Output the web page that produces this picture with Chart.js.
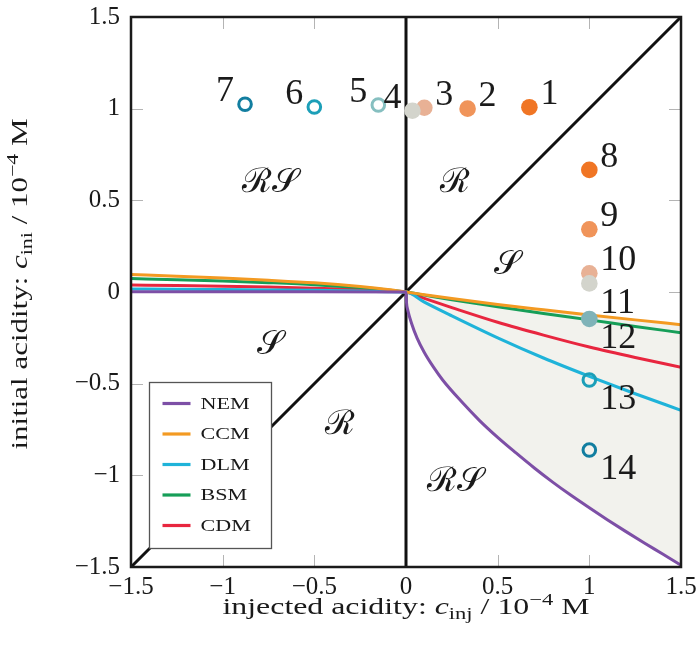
<!DOCTYPE html>
<html><head><meta charset="utf-8">
<script src="https://cdn.jsdelivr.net/npm/chart.js@4/dist/chart.umd.min.js"></script>
<style>html,body{margin:0;padding:0;background:#fff}canvas{display:block}</style>
</head><body>
<canvas id="c" width="700" height="649"></canvas>
<script>
// ---------------- data ----------------
const modelNames = ['NEM', 'CCM', 'DLM', 'BSM', 'CDM'];

const nemX = [-1.5, -1, -0.5, 0, 0.003, 0.01, 0.03, 0.06, 0.1, 0.15, 0.2, 0.3, 0.4, 0.5, 0.6, 0.7, 0.8, 0.9, 1.0, 1.1, 1.2, 1.3, 1.4, 1.5];
const nemY = [0.002, 0.002, 0.001, 0, -0.06, -0.1, -0.17, -0.25, -0.33, -0.41, -0.48, -0.595, -0.7, -0.793, -0.878, -0.96, -1.037, -1.109, -1.177, -1.243, -1.307, -1.369, -1.429, -1.49];

const curveX = [-1.5, -1.25, -1, -0.75, -0.5, -0.25, -0.1, 0, 0.1, 0.25, 0.5, 0.75, 1, 1.25, 1.5];
const ccmY = [0.095, 0.086, 0.076, 0.064, 0.05, 0.03, 0.014, 0, -0.015, -0.036, -0.068, -0.097, -0.125, -0.152, -0.178];
const dlmY = [0.016, 0.015, 0.013, 0.011, 0.009, 0.005, 0.002, 0, -0.055, -0.13, -0.25, -0.36, -0.46, -0.555, -0.645];
const bsmY = [0.073, 0.067, 0.06, 0.051, 0.04, 0.024, 0.011, 0, -0.017, -0.042, -0.08, -0.117, -0.152, -0.188, -0.222];
const cdmY = [0.038, 0.035, 0.031, 0.027, 0.021, 0.013, 0.006, 0, -0.035, -0.085, -0.165, -0.235, -0.3, -0.357, -0.41];

// boundary lines (black)
const verticalX = [0, 0];
const verticalY = [-1.5, 1.5];
const diagonalX = [-1.5, 1.5];
const diagonalY = [-1.5, 1.5];

// experiments
const expIds = ['1','2','3','4','5','6','7','8','9','10','11','12','13','14'];
const expX = [0.673, 0.336, 0.1, 0.035, -0.151, -0.5, -0.878, 1, 1, 1, 1, 1, 1, 1];
const expY = [1.008, 1.0, 1.005, 0.989, 1.02, 1.009, 1.024, 0.666, 0.342, 0.102, 0.047, -0.147, -0.48, -0.862];
const expFilled = [true, true, true, true, false, false, false, true, true, true, true, true, false, false];

// tick values
const tickValues = [-1.5, -1, -0.5, 0, 0.5, 1, 1.5];

// region labels
const regionText = ['ℛ𝒮', 'ℛ', '𝒮', '𝒮', 'ℛ', 'ℛ𝒮'];
const regionX = [-0.74, 0.267, 0.55, -0.74, -0.36, 0.267];
const regionY = [0.595, 0.595, 0.147, -0.29, -0.725, -1.04];

// ---------------- styles ----------------
const modelColors = { NEM: '#7d4fa6', CCM: '#f39a22', DLM: '#1fb3d9', BSM: '#169e58', CDM: '#e8263f' };
const expColors = ['#f07524', '#f0945a', '#e8b195', '#d3d4cc', '#86bfc0', '#1c9fb8', '#127ea0',
                   '#f07524', '#f0945a', '#e8b195', '#d3d4cc', '#7fb3b8', '#1c9fb8', '#127ea0'];
// label placement: 'r' = right/above, 'l' = left/above, 'b' = right/below
const expLabelSide = ['r','r','r','l','l','l','l','r','r','r','b','b','b','b'];

const pts = (xs, ys) => xs.map((v, i) => ({ x: v, y: ys[i] }));

const curve = (name, xs, ys) => ({
  label: name, data: pts(xs, ys), borderColor: modelColors[name], backgroundColor: modelColors[name],
  borderWidth: 3, pointRadius: 0, showLine: true, fill: false, cubicInterpolationMode: 'monotone', order: 20
});

const nemRightIdx = nemX.map((v, i) => i).filter(i => nemX[i] >= 0);
const ccmRightIdx = curveX.map((v, i) => i).filter(i => curveX[i] >= 0);

const datasets = [
  {
    label: 'experiments', data: pts(expX, expY), showLine: false, order: 1,
    pointRadius: expFilled.map(f => f ? 8.3 : 6.3),
    pointHoverRadius: expFilled.map(f => f ? 8.3 : 6.3),
    pointBackgroundColor: expFilled.map((f, i) => f ? expColors[i] : 'rgba(255,255,255,0)'),
    pointBorderColor: expColors,
    pointBorderWidth: expFilled.map(f => f ? 0 : 3)
  },
  curve('NEM', nemX, nemY),
  curve('CCM', curveX, ccmY),
  curve('DLM', curveX, dlmY),
  curve('BSM', curveX, bsmY),
  curve('CDM', curveX, cdmY),
  { label: 'x0', data: pts(verticalX, verticalY), borderColor: '#111', borderWidth: 3, pointRadius: 0, showLine: true, fill: false, order: 30 },
  { label: 'diag', data: pts(diagonalX, diagonalY), borderColor: '#111', borderWidth: 3, pointRadius: 0, showLine: true, fill: false, order: 30 },
  {
    label: 'shade',
    data: nemRightIdx.map(i => ({ x: nemX[i], y: nemY[i] })).concat(
          ccmRightIdx.slice().reverse().map(i => ({ x: curveX[i], y: ccmY[i] }))),
    borderWidth: 0, borderColor: 'rgba(0,0,0,0)', pointRadius: 0, showLine: true,
    fill: 'shape', backgroundColor: '#f2f2ed', order: 40, tension: 0
  }
];

const serif = '"Liberation Serif", "DejaVu Serif", serif';

function drawRich(ctx, parts, cx, cy, size, targetW) {
  const fontOf = k => {
    const s = (k === 'sub' || k === 'sup') ? Math.round(size * 0.7) : size;
    return (k === 'i' ? 'italic ' : '') + s + 'px ' + serif;
  };
  let w = 0;
  const widths = parts.map(([t, k]) => { ctx.font = fontOf(k); const m = ctx.measureText(t).width; w += m; return m; });
  const sx = targetW ? targetW / w : 1;
  ctx.save();
  ctx.translate(cx - (w * sx) / 2, cy);
  ctx.scale(sx, 1);
  let x = 0;
  ctx.textBaseline = 'alphabetic';
  ctx.textAlign = 'left';
  parts.forEach(([t, k], i) => {
    ctx.font = fontOf(k);
    let dy = 0;
    if (k === 'sub') dy = size * 0.2;
    if (k === 'sup') dy = -size * 0.38;
    ctx.fillText(t, x, dy);
    x += widths[i];
  });
  ctx.restore();
}

const inkPlugin = {
  id: 'ink',
  beforeDatasetsDraw(chart) {
    const { ctx, chartArea: a, scales: { x, y } } = chart;
    ctx.save();
    ctx.strokeStyle = '#b4b4b4';
    ctx.lineWidth = 1;
    const L = 12;
    x.ticks.forEach(t => {
      const px = Math.round(x.getPixelForValue(t.value)) + 0.5;
      ctx.beginPath(); ctx.moveTo(px, a.bottom); ctx.lineTo(px, a.bottom - L);
      ctx.moveTo(px, a.top); ctx.lineTo(px, a.top + L); ctx.stroke();
    });
    y.ticks.forEach(t => {
      const py = Math.round(y.getPixelForValue(t.value)) + 0.5;
      ctx.beginPath(); ctx.moveTo(a.left, py); ctx.lineTo(a.left + L, py);
      ctx.moveTo(a.right, py); ctx.lineTo(a.right - L, py); ctx.stroke();
    });
    ctx.restore();
  },
  afterDatasetsDraw(chart) {
    const { ctx, chartArea: a, scales: { x, y } } = chart;
    ctx.save();
    ctx.fillStyle = '#1a1a1a';
    ctx.textAlign = 'center';
    ctx.textBaseline = 'middle';
    ctx.font = '34px "DejaVu Serif", serif';
    regionText.forEach((t, i) => ctx.fillText(t, x.getPixelForValue(regionX[i]), y.getPixelForValue(regionY[i])));

    const meta = chart.getDatasetMeta(0);
    ctx.font = '36px ' + serif;
    ctx.fillStyle = '#1a1a1a';
    meta.data.forEach((el, i) => {
      const side = expLabelSide[i];
      if (side === 'l') { ctx.textAlign = 'right'; ctx.textBaseline = 'alphabetic'; ctx.fillText(expIds[i], el.x - 11, el.y - 3); }
      else if (side === 'r') { ctx.textAlign = 'left'; ctx.textBaseline = 'alphabetic'; ctx.fillText(expIds[i], el.x + 11, el.y - 3); }
      else { ctx.textAlign = 'left'; ctx.textBaseline = 'top'; ctx.fillText(expIds[i], el.x + 11, el.y + 2); }
    });

    ctx.strokeStyle = '#1a1a1a';
    ctx.lineWidth = 2.5;
    ctx.strokeRect(a.left, a.top, a.right - a.left, a.bottom - a.top);

    // legend
    const bx = a.left + 18.5, by = a.top + 365.5, bw = 122, bh = 166;
    ctx.fillStyle = '#fff';
    ctx.fillRect(bx, by, bw, bh);
    ctx.strokeStyle = '#555';
    ctx.lineWidth = 1.3;
    ctx.strokeRect(bx, by, bw, bh);
    modelNames.forEach((name, i) => {
      const ds = chart.data.datasets.find(d => d.label === name);
      const ry = by + 21 + i * 30.5;
      ctx.strokeStyle = ds.borderColor;
      ctx.lineWidth = 3.2;
      ctx.beginPath(); ctx.moveTo(bx + 13, ry); ctx.lineTo(bx + 41, ry); ctx.stroke();
      ctx.save();
      ctx.translate(bx + 51, ry);
      ctx.scale(1.3, 1);
      ctx.fillStyle = '#1a1a1a';
      ctx.font = '17px ' + serif;
      ctx.textAlign = 'left';
      ctx.textBaseline = 'middle';
      ctx.fillText(ds.label, 0, 1);
      ctx.restore();
    });
    ctx.restore();
  },
  afterDraw(chart) {
    const { ctx, chartArea: a } = chart;
    ctx.save();
    ctx.fillStyle = '#1a1a1a';
    const cx = (a.left + a.right) / 2;
    drawRich(ctx, [['injected acidity: ', 'n'], ['c', 'i'], ['inj', 'sub'], [' / 10', 'n'], ['−4', 'sup'], [' M', 'n']], cx, 614, 24, 367);
    ctx.translate(27, (a.top + a.bottom) / 2 - 8);
    ctx.rotate(-Math.PI / 2);
    drawRich(ctx, [['initial acidity: ', 'n'], ['c', 'i'], ['ini', 'sub'], [' / 10', 'n'], ['−4', 'sup'], [' M', 'n']], 0, 0, 24, 331);
    ctx.restore();
  }
};

const fmt = v => String(v).replace('-', '−');

new Chart(document.getElementById('c'), {
  type: 'line',
  data: { datasets },
  options: {
    responsive: false,
    animation: false,
    devicePixelRatio: 1,
    layout: { padding: { left: 0, right: 19, top: 17, bottom: 0 } },
    plugins: { legend: { display: false }, tooltip: { enabled: false } },
    elements: { line: { borderCapStyle: 'butt' } },
    scales: {
      x: {
        type: 'linear', min: -1.5, max: 1.5,
        afterBuildTicks: s => { s.ticks = tickValues.map(v => ({ value: v })); },
        afterFit: s => { s.height = 82; s.paddingLeft = 0; s.paddingRight = 0; },
        grid: { display: false, drawTicks: false },
        border: { display: false },
        ticks: { color: '#1a1a1a', padding: 5, maxRotation: 0, autoSkip: false, font: { family: serif, size: 25 }, callback: v => fmt(v) }
      },
      y: {
        type: 'linear', min: -1.5, max: 1.5,
        afterBuildTicks: s => { s.ticks = tickValues.map(v => ({ value: v })); },
        afterFit: s => { s.width = 131; s.paddingTop = 0; s.paddingBottom = 0; },
        grid: { display: false, drawTicks: false },
        border: { display: false },
        ticks: { color: '#1a1a1a', padding: 11, autoSkip: false, font: { family: serif, size: 25 }, callback: v => fmt(v) }
      }
    }
  },
  plugins: [inkPlugin]
});
</script>
</body></html>
